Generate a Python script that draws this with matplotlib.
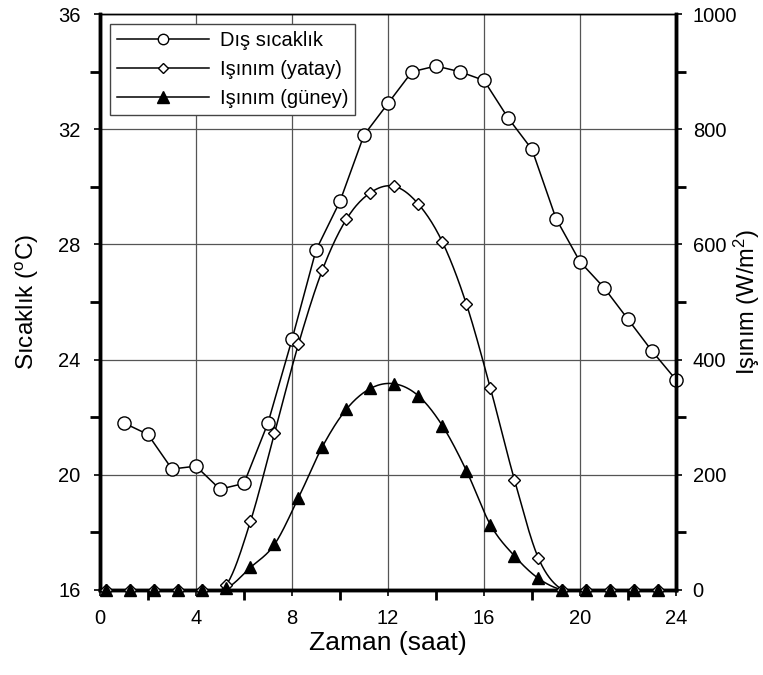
import numpy as np
import matplotlib
matplotlib.use("Agg")
import matplotlib.pyplot as plt
from matplotlib.lines import Line2D
from matplotlib.ticker import MultipleLocator

plt.rcParams['font.family'] = ['Liberation Sans', 'DejaVu Sans']

# outside temperature, hourly
temp_x = [1, 2, 3, 4, 5, 6, 7, 8, 9, 10, 11, 12,
          13, 14, 15, 16, 17, 18, 19, 20, 21, 22, 23, 24]
temp_y = [21.8, 21.4, 20.2, 20.3, 19.5, 19.7, 21.8, 24.7, 27.8, 29.5, 31.8, 32.9,
          34.0, 34.2, 34.0, 33.7, 32.4, 31.3, 28.9, 27.4, 26.5, 25.4, 24.3, 23.3]

# radiation, times shifted a little from the hour
rad_x = [0.27, 1.27, 2.27, 3.27, 4.27, 5.27, 6.27, 7.27, 8.27, 9.27, 10.27, 11.27,
         12.27, 13.27, 14.27, 15.27, 16.27, 17.27, 18.27, 19.27, 20.27, 21.27, 22.27, 23.27]
rad_horiz = [0, 0, 0, 0, 0, 9, 119, 272, 427, 556, 644, 690,
             701, 670, 604, 496, 350, 191, 55, 0, 0, 0, 0, 0]
rad_south = [0, 0, 0, 0, 0, 3, 39, 79, 160, 249, 314, 350,
             358, 337, 285, 207, 113, 59, 20, 0, 0, 0, 0, 0]


def smooth(x, y, n=20):
    # catmull-rom curve through the points, only for the drawn line
    pts = np.column_stack([x, y]).astype(float)
    p = np.vstack([pts[0], pts, pts[-1]])
    out = []
    t = np.linspace(0, 1, n, endpoint=False)[:, None]
    for i in range(len(pts) - 1):
        p0, p1, p2, p3 = p[i], p[i + 1], p[i + 2], p[i + 3]
        seg = 0.5 * (2 * p1 + (-p0 + p2) * t + (2 * p0 - 5 * p1 + 4 * p2 - p3) * t ** 2
                     + (-p0 + 3 * p1 - 3 * p2 + p3) * t ** 3)
        out.append(seg)
    out.append(pts[-1:])
    s = np.vstack(out)
    return s[:, 0], s[:, 1]


fig = plt.figure(figsize=(7.63, 6.75), dpi=100)
ax = fig.add_axes([0.131, 0.126, 0.755, 0.853])
ax2 = ax.twinx()

lw = 1.1
# temperature
ax.plot(temp_x, temp_y, color='k', lw=lw, zorder=3)
ax.plot(temp_x, temp_y, 'o', ms=9.5, mfc='white', mec='k', mew=1.0, clip_on=False, zorder=4)

# horizontal radiation
sx, sy = smooth(rad_x, rad_horiz)
ax2.plot(sx, sy, color='k', lw=lw, zorder=3)
ax2.plot(rad_x, rad_horiz, 'D', ms=6.5, mfc='white', mec='k', mew=1.0, clip_on=False, zorder=4)

# south radiation
sx, sy = smooth(rad_x, rad_south)
ax2.plot(sx, sy, color='k', lw=lw, zorder=3)
ax2.plot(rad_x, rad_south, '^', ms=9, mfc='k', mec='k', clip_on=False, zorder=5)

ax.set_xlim(0, 24)
ax.set_ylim(16, 36)
ax2.set_ylim(0, 1000)

ax.xaxis.set_major_locator(MultipleLocator(4))
ax.xaxis.set_minor_locator(MultipleLocator(2))
ax.yaxis.set_major_locator(MultipleLocator(4))
ax.yaxis.set_minor_locator(MultipleLocator(2))
ax2.yaxis.set_major_locator(MultipleLocator(200))
ax2.yaxis.set_minor_locator(MultipleLocator(100))

ax.grid(True, which='major', color='#555555', lw=0.9)
ax.set_axisbelow(True)

ax.tick_params(axis='both', which='both', direction='out', labelsize=14.5)
ax.tick_params(which='major', length=4, width=1.2)
ax.tick_params(which='minor', length=7, width=2)
ax.tick_params(axis='y', which='major', pad=10)
ax.tick_params(axis='x', which='major', pad=10)
ax.tick_params(top=False, right=False)
ax2.tick_params(axis='y', which='both', direction='out', labelsize=14.5)
ax2.tick_params(axis='y', which='major', length=4, width=1.2, pad=8)
ax2.tick_params(axis='y', which='minor', length=7, width=2)

for a in (ax, ax2):
    a.spines['left'].set_linewidth(2.5)
    a.spines['right'].set_linewidth(2.5)
    a.spines['bottom'].set_linewidth(2.5)
    a.spines['top'].set_linewidth(1.0)

ax.set_xlabel('Zaman (saat)', fontsize=19, labelpad=2)
ax.set_ylabel('Sıcaklık ($\\mathregular{^o}$C)', fontsize=17.5, labelpad=12)
ax2.set_ylabel('Işınım (W/m$\\mathregular{^2}$)', fontsize=17, labelpad=-4)

handles = [
    Line2D([], [], color='k', lw=lw, marker='o', ms=7.5, mfc='white', mec='k'),
    Line2D([], [], color='k', lw=lw, marker='D', ms=5.5, mfc='white', mec='k'),
    Line2D([], [], color='k', lw=lw, marker='^', ms=8, mfc='k', mec='k'),
]
labels = ['Dış sıcaklık', 'Işınım (yatay)', 'Işınım (güney)']
leg = ax2.legend(handles, labels, loc='upper left', bbox_to_anchor=(0.017, 0.983),
                 fontsize=14.5, handlelength=4.6, handletextpad=0.5, labelspacing=0.5,
                 borderpad=0.35, borderaxespad=0, fancybox=False, framealpha=1,
                 edgecolor='#444444')
leg.get_frame().set_linewidth(1.0)

fig.savefig('out.png', dpi=100)
